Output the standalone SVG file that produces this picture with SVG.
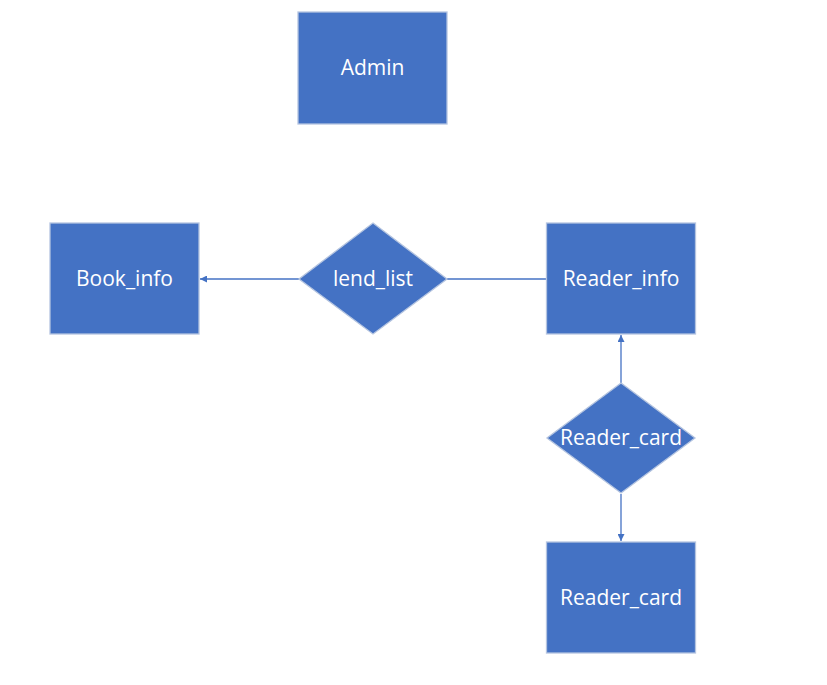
<svg xmlns="http://www.w3.org/2000/svg" width="827" height="685" viewBox="0 0 827 685">
<style>
.box{fill:#4472C4;stroke:#B4C4E0;stroke-width:1.3}
.lbl{font-family:"Open Sans","Noto Sans","Liberation Sans",sans-serif;font-size:21px;fill:#FFFFFF;text-anchor:middle;dominant-baseline:central}
.con{stroke:#4472C4;stroke-width:1.3;fill:none}
</style>
<defs>
<marker id="arr" viewBox="0 0 10 10" refX="10" refY="5" markerWidth="7" markerHeight="7" markerUnits="userSpaceOnUse" orient="auto">
<path d="M0,0 L10,5 L0,10 Z" fill="#4472C4"/>
</marker>
</defs>
<rect width="827" height="685" fill="#FFFFFF"/>
<g id="connectors">
<line class="con" x1="299" y1="279" x2="200" y2="279" marker-end="url(#arr)"/>
<line class="con" x1="447" y1="279" x2="546" y2="279"/>
<line class="con" x1="621" y1="383" x2="621" y2="335" marker-end="url(#arr)"/>
<line class="con" x1="621" y1="494" x2="621" y2="541" marker-end="url(#arr)"/>
</g>
<g id="admin">
<rect class="box" x="298" y="12" width="149" height="112"/>
<text class="lbl" x="372.5" y="67">Admin</text>
</g>
<g id="book_info">
<rect class="box" x="50" y="223" width="149" height="111"/>
<text class="lbl" x="124.5" y="277.5">Book_info</text>
</g>
<g id="lend_list">
<polygon class="box" points="373,223 447,279 373,334 299,279"/>
<text class="lbl" x="373" y="277.5">lend_list</text>
</g>
<g id="reader_info">
<rect class="box" x="546.5" y="223" width="149" height="111"/>
<text class="lbl" x="621" y="277.5">Reader_info</text>
</g>
<g id="reader_card_rel">
<polygon class="box" points="621,383 695,438 621,493 547,438"/>
<text class="lbl" x="621" y="437">Reader_card</text>
</g>
<g id="reader_card">
<rect class="box" x="546.5" y="542" width="149" height="111"/>
<text class="lbl" x="621" y="597">Reader_card</text>
</g>
</svg>
